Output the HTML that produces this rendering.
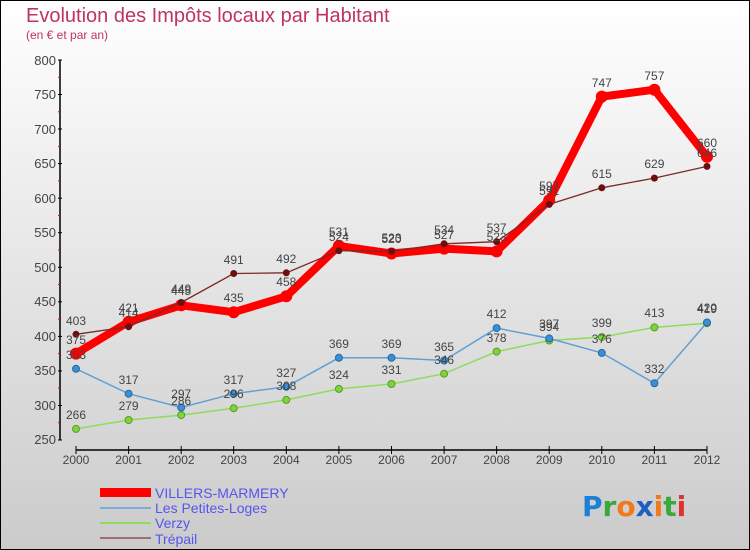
<!DOCTYPE html><html><head><style>body{margin:0}svg{display:block}</style></head><body>
<svg width="750" height="550" xmlns="http://www.w3.org/2000/svg" font-family="Liberation Sans, sans-serif">
<defs><linearGradient id="bg" x1="0" y1="0" x2="0" y2="1"><stop offset="0" stop-color="#fff"/><stop offset="1" stop-color="#cbcbcb"/></linearGradient></defs>
<rect x="0.5" y="0.5" width="749" height="549" fill="url(#bg)" stroke="#000"/>
<text x="26" y="22" font-size="20" fill="#c0335f">Evolution des Impôts locaux par Habitant</text>
<text x="26" y="39" font-size="12" fill="#c0335f">(en € et par an)</text>
<g stroke="#000" stroke-width="1.5"><line x1="60" y1="60" x2="60" y2="440"/><line x1="76" y1="450" x2="707" y2="450"/></g>
<g stroke="#000"><line x1="58" y1="60" x2="62" y2="60"/><line x1="58" y1="94.5" x2="62" y2="94.5"/><line x1="58" y1="129" x2="62" y2="129"/><line x1="58" y1="163.6" x2="62" y2="163.6"/><line x1="58" y1="198.2" x2="62" y2="198.2"/><line x1="58" y1="232.7" x2="62" y2="232.7"/><line x1="58" y1="267.3" x2="62" y2="267.3"/><line x1="58" y1="301.8" x2="62" y2="301.8"/><line x1="58" y1="336.4" x2="62" y2="336.4"/><line x1="58" y1="370.9" x2="62" y2="370.9"/><line x1="58" y1="405.5" x2="62" y2="405.5"/><line x1="58" y1="440" x2="62" y2="440"/></g>
<g stroke="red"><line x1="58" y1="77.3" x2="60" y2="77.3"/><line x1="58" y1="111.8" x2="60" y2="111.8"/><line x1="58" y1="146.4" x2="60" y2="146.4"/><line x1="58" y1="180.9" x2="60" y2="180.9"/><line x1="58" y1="215.5" x2="60" y2="215.5"/><line x1="58" y1="250" x2="60" y2="250"/><line x1="58" y1="284.5" x2="60" y2="284.5"/><line x1="58" y1="319.1" x2="60" y2="319.1"/><line x1="58" y1="353.6" x2="60" y2="353.6"/><line x1="58" y1="388.2" x2="60" y2="388.2"/><line x1="58" y1="422.7" x2="60" y2="422.7"/></g>
<g font-size="13" fill="#444" text-anchor="end"><text x="56" y="65">800</text><text x="56" y="99">750</text><text x="56" y="134">700</text><text x="56" y="168">650</text><text x="56" y="203">600</text><text x="56" y="237">550</text><text x="56" y="272">500</text><text x="56" y="306">450</text><text x="56" y="341">400</text><text x="56" y="375">350</text><text x="56" y="410">300</text><text x="56" y="444">250</text></g>
<g stroke="#000"><line x1="76" y1="446" x2="76" y2="454"/><line x1="128.6" y1="446" x2="128.6" y2="454"/><line x1="181.2" y1="446" x2="181.2" y2="454"/><line x1="233.7" y1="446" x2="233.7" y2="454"/><line x1="286.3" y1="446" x2="286.3" y2="454"/><line x1="338.9" y1="446" x2="338.9" y2="454"/><line x1="391.5" y1="446" x2="391.5" y2="454"/><line x1="444.1" y1="446" x2="444.1" y2="454"/><line x1="496.6" y1="446" x2="496.6" y2="454"/><line x1="549.2" y1="446" x2="549.2" y2="454"/><line x1="601.8" y1="446" x2="601.8" y2="454"/><line x1="654.4" y1="446" x2="654.4" y2="454"/><line x1="707" y1="446" x2="707" y2="454"/></g>
<g font-size="12" fill="#444" text-anchor="middle"><text x="76" y="464">2000</text><text x="128.6" y="464">2001</text><text x="181.2" y="464">2002</text><text x="233.7" y="464">2003</text><text x="286.3" y="464">2004</text><text x="338.9" y="464">2005</text><text x="391.5" y="464">2006</text><text x="444.1" y="464">2007</text><text x="496.6" y="464">2008</text><text x="549.2" y="464">2009</text><text x="601.8" y="464">2010</text><text x="654.4" y="464">2011</text><text x="707" y="464">2012</text></g>
<polyline fill="none" stroke="#8fdc5a" stroke-width="1.5" points="76,428.9 128.6,420 181.2,415.1 233.7,408.2 286.3,399.9 338.9,388.9 391.5,384 444.1,373.7 496.6,351.6 549.2,340.5 601.8,337.1 654.4,327.4 707,323.2"/>
<g fill="#7ed43c" stroke="#5a9a2a"><circle cx="76" cy="428.9" r="3.5"/><circle cx="128.6" cy="420" r="3.5"/><circle cx="181.2" cy="415.1" r="3.5"/><circle cx="233.7" cy="408.2" r="3.5"/><circle cx="286.3" cy="399.9" r="3.5"/><circle cx="338.9" cy="388.9" r="3.5"/><circle cx="391.5" cy="384" r="3.5"/><circle cx="444.1" cy="373.7" r="3.5"/><circle cx="496.6" cy="351.6" r="3.5"/><circle cx="549.2" cy="340.5" r="3.5"/><circle cx="601.8" cy="337.1" r="3.5"/><circle cx="654.4" cy="327.4" r="3.5"/><circle cx="707" cy="323.2" r="3.5"/></g>
<polyline fill="none" stroke="#5fa0d6" stroke-width="1.5" points="76,368.8 128.6,393.7 181.2,407.5 233.7,393.7 286.3,386.8 338.9,357.8 391.5,357.8 444.1,360.5 496.6,328.1 549.2,338.4 601.8,352.9 654.4,383.3 707,322.5"/>
<g fill="#3a8fd8" stroke="#2a6aa0"><circle cx="76" cy="368.8" r="3.5"/><circle cx="128.6" cy="393.7" r="3.5"/><circle cx="181.2" cy="407.5" r="3.5"/><circle cx="233.7" cy="393.7" r="3.5"/><circle cx="286.3" cy="386.8" r="3.5"/><circle cx="338.9" cy="357.8" r="3.5"/><circle cx="391.5" cy="357.8" r="3.5"/><circle cx="444.1" cy="360.5" r="3.5"/><circle cx="496.6" cy="328.1" r="3.5"/><circle cx="549.2" cy="338.4" r="3.5"/><circle cx="601.8" cy="352.9" r="3.5"/><circle cx="654.4" cy="383.3" r="3.5"/><circle cx="707" cy="322.5" r="3.5"/></g>
<polyline fill="none" stroke="#f00" stroke-width="8" stroke-linejoin="round" points="76,353.6 128.6,321.9 181.2,305.3 233.7,312.2 286.3,296.3 338.9,245.9 391.5,253.5 444.1,248.6 496.6,251.4 549.2,200.3 601.8,96.6 654.4,89.7 707,156.7"/>
<g fill="#f00"><circle cx="76" cy="353.6" r="6"/><circle cx="128.6" cy="321.9" r="6"/><circle cx="181.2" cy="305.3" r="6"/><circle cx="233.7" cy="312.2" r="6"/><circle cx="286.3" cy="296.3" r="6"/><circle cx="338.9" cy="245.9" r="6"/><circle cx="391.5" cy="253.5" r="6"/><circle cx="444.1" cy="248.6" r="6"/><circle cx="496.6" cy="251.4" r="6"/><circle cx="549.2" cy="200.3" r="6"/><circle cx="601.8" cy="96.6" r="6"/><circle cx="654.4" cy="89.7" r="6"/><circle cx="707" cy="156.7" r="6"/></g>
<polyline fill="none" stroke="#7a2a2a" stroke-width="1.3" points="76,334.3 128.6,326.7 181.2,302.5 233.7,273.5 286.3,272.8 338.9,250.7 391.5,251.4 444.1,243.8 496.6,241.7 549.2,204.4 601.8,187.8 654.4,178.1 707,166.4"/>
<g fill="#6a1010"><circle cx="76" cy="334.3" r="3.5"/><circle cx="128.6" cy="326.7" r="3.5"/><circle cx="181.2" cy="302.5" r="3.5"/><circle cx="233.7" cy="273.5" r="3.5"/><circle cx="286.3" cy="272.8" r="3.5"/><circle cx="338.9" cy="250.7" r="3.5"/><circle cx="391.5" cy="251.4" r="3.5"/><circle cx="444.1" cy="243.8" r="3.5"/><circle cx="496.6" cy="241.7" r="3.5"/><circle cx="549.2" cy="204.4" r="3.5"/><circle cx="601.8" cy="187.8" r="3.5"/><circle cx="654.4" cy="178.1" r="3.5"/><circle cx="707" cy="166.4" r="3.5"/></g>
<g font-size="12" fill="#444" text-anchor="middle">
<text x="76" y="419">266</text><text x="128.6" y="410">279</text><text x="181.2" y="405">286</text><text x="233.7" y="398">296</text><text x="286.3" y="390">308</text><text x="338.9" y="379">324</text><text x="391.5" y="374">331</text><text x="444.1" y="364">346</text><text x="496.6" y="342">378</text><text x="549.2" y="331">394</text><text x="601.8" y="327">399</text><text x="654.4" y="317">413</text><text x="707" y="313">419</text>
<text x="76" y="359">353</text><text x="128.6" y="384">317</text><text x="181.2" y="398">297</text><text x="233.7" y="384">317</text><text x="286.3" y="377">327</text><text x="338.9" y="348">369</text><text x="391.5" y="348">369</text><text x="444.1" y="351">365</text><text x="496.6" y="318">412</text><text x="549.2" y="328">397</text><text x="601.8" y="343">376</text><text x="654.4" y="373">332</text><text x="707" y="312">420</text>
<text x="76" y="344">375</text><text x="128.6" y="312">421</text><text x="181.2" y="295">445</text><text x="233.7" y="302">435</text><text x="286.3" y="286">458</text><text x="338.9" y="236">531</text><text x="391.5" y="243">520</text><text x="444.1" y="239">527</text><text x="496.6" y="241">523</text><text x="549.2" y="190">597</text><text x="601.8" y="87">747</text><text x="654.4" y="80">757</text><text x="707" y="147">660</text>
<text x="76" y="325">403</text><text x="128.6" y="317">414</text><text x="181.2" y="293">449</text><text x="233.7" y="264">491</text><text x="286.3" y="263">492</text><text x="338.9" y="241">524</text><text x="391.5" y="242">523</text><text x="444.1" y="234">534</text><text x="496.6" y="232">537</text><text x="549.2" y="195">591</text><text x="601.8" y="178">615</text><text x="654.4" y="168">629</text><text x="707" y="157">646</text>
</g>
<rect x="100" y="488" width="51" height="9" fill="#f00"/>
<line x1="100" y1="508" x2="151" y2="508" stroke="#7aaed8" stroke-width="2"/>
<line x1="100" y1="523" x2="151" y2="523" stroke="#8fdc5a" stroke-width="2"/>
<line x1="100" y1="538" x2="151" y2="538" stroke="#a07070" stroke-width="2"/>
<g font-size="14" fill="#5555ee"><text x="155" y="498">VILLERS-MARMERY</text><text x="155" y="513">Les Petites-Loges</text><text x="155" y="528">Verzy</text><text x="155" y="544">Trépail</text></g>
<text x="582" y="516" font-size="28" font-weight="bold" font-family="DejaVu Sans, sans-serif"><tspan fill="#1e7fd6">P</tspan><tspan fill="#3aa83a">r</tspan><tspan fill="#f07a1a">o</tspan><tspan fill="#1e60c0">x</tspan><tspan fill="#f07a1a">i</tspan><tspan fill="#3aa83a">t</tspan><tspan fill="#e03030">i</tspan></text>
</svg></body></html>
